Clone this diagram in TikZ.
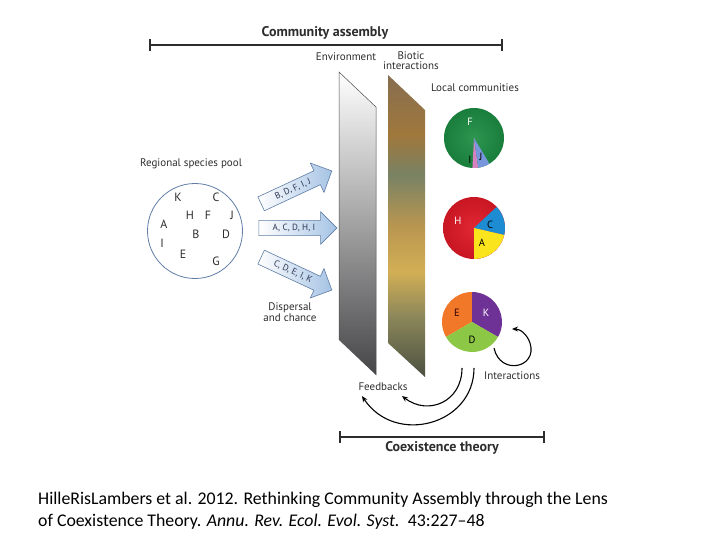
\documentclass[tikz,border=0pt]{standalone}
\usepackage{fontspec}
\setmainfont{PT Sans}
\newfontfamily\citefont{Carlito}
\usetikzlibrary{shapes.arrows,arrows.meta}
\definecolor{txt}{RGB}{45,45,45}
\definecolor{envbot}{RGB}{70,70,72}
\definecolor{bA}{RGB}{75,80,65}
\definecolor{bB}{RGB}{140,135,90}
\definecolor{bC}{RGB}{210,175,85}
\definecolor{bD}{RGB}{185,150,80}
\definecolor{bE}{RGB}{120,130,100}
\definecolor{bF}{RGB}{160,120,60}
\definecolor{bG}{RGB}{135,110,80}
\definecolor{arrline}{RGB}{95,125,165}
\definecolor{arrfill}{RGB}{165,195,228}
\definecolor{arrtxt}{RGB}{45,55,85}
\definecolor{pgreen}{RGB}{25,125,60}
\definecolor{pgreenl}{RGB}{45,150,80}
\definecolor{ppink}{RGB}{215,130,190}
\definecolor{pblue}{RGB}{120,150,220}
\definecolor{pred}{RGB}{200,22,35}
\definecolor{predl}{RGB}{225,40,50}
\definecolor{pcyan}{RGB}{30,140,210}
\definecolor{pyellow}{RGB}{250,228,30}
\definecolor{porange}{RGB}{240,120,40}
\definecolor{ppurple}{RGB}{110,50,150}
\definecolor{plime}{RGB}{140,200,70}
\pgfdeclareverticalshading{envshade}{100bp}{color(0bp)=(envbot); color(25bp)=(envbot); color(75bp)=(white); color(100bp)=(white)}
\pgfdeclareverticalshading{bioshade}{100bp}{color(0bp)=(bA); color(25bp)=(bA); color(35bp)=(bB); color(42.5bp)=(bC); color(50bp)=(bD); color(58.5bp)=(bE); color(65bp)=(bF); color(75bp)=(bG); color(100bp)=(bG)}
\tikzset{
  lbl/.style={text=txt, font=\fontsize{11}{12}\selectfont, inner sep=0pt},
  hdr/.style={text=txt, font=\fontsize{14}{15}\bfseries\selectfont, inner sep=0pt},
  sp/.style={text=txt, font=\fontsize{12}{13}\selectfont, inner sep=0pt},
  bar/.style={line width=2pt, draw=txt},
  flow/.style={single arrow, draw=arrline, line width=0.6pt, left color=white, right color=arrfill,
    single arrow head extend=8.5pt, single arrow tip angle=90, minimum height=78pt,
    inner xsep=2pt, inner ysep=3.5pt, text=arrtxt, font=\fontsize{9}{10}\selectfont},
  loop/.style={line width=1.1pt, draw=black, -{Stealth[length=6pt,width=5pt]}},
  pl/.style={font=\fontsize{10.5}{11}\selectfont, inner sep=0pt},
}
\begin{document}
\begin{tikzpicture}[x=1pt,y=-1pt]
\useasboundingbox (0,0) rectangle (720,540);
% top bar
\coordinate (ca1) at (150,45); \coordinate (ca2) at (502,45);
\draw[bar] (ca1) -- (ca2);
\draw[bar] ([yshift=-6pt]ca1) -- ([yshift=6pt]ca1);
\draw[bar] ([yshift=-6pt]ca2) -- ([yshift=6pt]ca2);
\node[hdr] (catitle) at (325,33) {Community assembly};
\node[lbl] (env) at (346,57) {Environment};
\node[lbl, align=center] (bio) at (411,61) {Biotic\\[-2pt]interactions};
\node[lbl] (local) at (475,88) {Local communities};
% panels
\shade[shading=envshade] (339,72) -- (376,107) -- (376,375) -- (339,340) -- cycle;
\draw[line width=0.5pt, draw=black!70] (339,340) -- (339,72) -- (376,107) -- (376,375);
\shade[shading=bioshade] (388,75) -- (425,110) -- (425,377) -- (388,343) -- cycle;
% regional pool
\node[lbl] (rsp) at (191,164) {Regional species pool};
\node[draw=arrline, line width=0.8pt, circle, minimum size=95pt, inner sep=0pt] (pool) at (195,231) {};
\node[sp] (K) at (178,197) {K};
\node[sp] (C) at (216,197) {C};
\node[sp] (H) at (190,215) {H};
\node[sp] (F) at (208,215) {F};
\node[sp] (J) at (232,215) {J};
\node[sp] (A) at (164,224) {A};
\node[sp] (B) at (196,234) {B};
\node[sp] (D) at (226,234) {D};
\node[sp] (I) at (162,243) {I};
\node[sp] (E) at (183,254) {E};
\node[sp] (G) at (216,261) {G};
% arrows
\node[flow, rotate=25] (ar1) at (293,189) {B, D, F, I, J};
\node[flow] (ar2) at (294,228) {A, C, D, H, I};
\node[flow, rotate=-25] (ar3) at (293,272) {C, D, E, I, K};
\node[lbl, align=center] (disp) at (290,312) {Dispersal\\[-1pt]and chance};
% pie 1
\coordinate (p1) at (474,138);
\shade[inner color=pgreenl, outer color=pgreen] (p1) circle[radius=30];
\fill[ppink] (p1) -- ++(-267:30) arc[start angle=-267, end angle=-278, radius=30] -- cycle;
\fill[pblue] (p1) -- ++(-278:30) arc[start angle=-278, end angle=-301, radius=30] -- cycle;
\node[pl, text=white] (pF) at (470,122) {F};
\node[pl, text=black] (pI) at (470,160) {I};
\node[pl, text=black] (pJ) at (481,157) {J};
% pie 2
\coordinate (p2) at (474,228);
\shade[inner color=predl, outer color=pred] (p2) circle[radius=31];
\fill[pcyan] (p2) -- ++(-43:31) arc[start angle=-43, end angle=13, radius=31] -- cycle;
\fill[pyellow] (p2) -- ++(13:31) arc[start angle=13, end angle=90, radius=31] -- cycle;
\node[pl, text=white] (pH) at (458,221) {H};
\node[pl, text=black] (pC) at (490,225) {C};
\node[pl, text=black] (pA) at (482,243) {A};
% pie 3
\coordinate (p3) at (472,322);
\fill[porange] (p3) -- ++(-90:30) arc[start angle=-90, end angle=-210, radius=30] -- cycle;
\fill[ppurple] (p3) -- ++(30:30) arc[start angle=30, end angle=-90, radius=30] -- cycle;
\fill[plime] (p3) -- ++(-210:30) arc[start angle=-210, end angle=-330, radius=30] -- cycle;
\node[pl, text=black!80!red] (pE) at (457,313) {E};
\node[pl, text=white] (pK) at (486,313) {K};
\node[pl, text=black] (pD) at (472,340) {D};
% interactions loop
\coordinate (i1) at (494,348);
\coordinate (i2) at (512,329);
\draw[loop] (i1) .. controls (500,376) and (538,368) .. (530,343) .. controls (527,334) and (520,329) .. (i2);
\node[lbl] (inter) at (512,376) {Interactions};
% feedbacks
\coordinate (f1) at (462,368); \coordinate (f1e) at (402,396);
\coordinate (f2) at (474,368); \coordinate (f2e) at (362,396);
\draw[loop] (f1) .. controls (462,402) and (428,416) .. (f1e);
\draw[loop] (f2) .. controls (474,425) and (395,446) .. (f2e);
\node[lbl] (feed) at (383,387) {Feedbacks};
% bottom bar
\coordinate (ct1) at (340,437); \coordinate (ct2) at (544,437);
\draw[bar] (ct1) -- (ct2);
\draw[bar] ([yshift=-6pt]ct1) -- ([yshift=6pt]ct1);
\draw[bar] ([yshift=-6pt]ct2) -- ([yshift=6pt]ct2);
\node[hdr] (cttitle) at (442,448) {Coexistence theory};
% citation
\node[anchor=west, inner sep=0pt, font=\citefont\fontsize{17.8}{20}\selectfont] (cit1) at (38,500) {HilleRisLambers et al. 2012. Rethinking Community Assembly through the Lens};
\node[anchor=west, inner sep=0pt, font=\citefont\fontsize{17.8}{20}\selectfont] (cit2) at (38,522) {of Coexistence Theory. \textit{Annu. Rev. Ecol. Evol. Syst.}\ \ 43:227–48};
\end{tikzpicture}
\end{document}
